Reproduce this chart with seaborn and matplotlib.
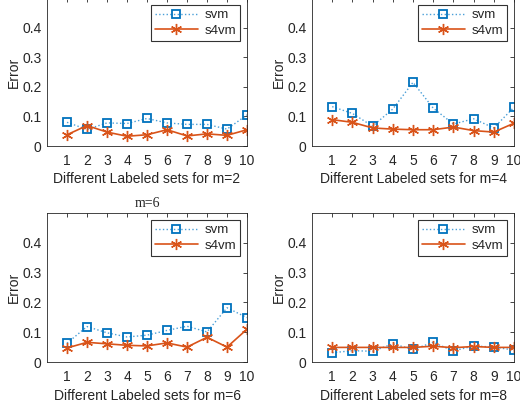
import matplotlib
matplotlib.use("Agg")
import matplotlib.pyplot as plt
import seaborn as sns
import numpy as np

sns.set_style("white")
plt.rcParams['font.family'] = ['Liberation Sans', 'DejaVu Sans']

sets = list(range(1, 11))
svm_m2 = [0.080, 0.056, 0.078, 0.076, 0.093, 0.078, 0.073, 0.073, 0.057, 0.105]
s4vm_m2 = [0.038, 0.069, 0.047, 0.033, 0.038, 0.055, 0.034, 0.041, 0.036, 0.055]
svm_m4 = [0.133, 0.110, 0.067, 0.125, 0.215, 0.128, 0.074, 0.092, 0.061, 0.131]
s4vm_m4 = [0.089, 0.080, 0.061, 0.057, 0.055, 0.055, 0.064, 0.052, 0.047, 0.077]
svm_m6 = [0.063, 0.119, 0.098, 0.084, 0.090, 0.106, 0.120, 0.101, 0.182, 0.149]
s4vm_m6 = [0.047, 0.066, 0.061, 0.056, 0.054, 0.064, 0.050, 0.083, 0.050, 0.110]
svm_m8 = [0.031, 0.038, 0.036, 0.061, 0.042, 0.066, 0.037, 0.054, 0.050, 0.040]
s4vm_m8 = [0.049, 0.049, 0.049, 0.049, 0.049, 0.053, 0.048, 0.052, 0.049, 0.049]
yticks = [0, 0.1, 0.2, 0.3, 0.4]
ytick_labels = ["0", "0.1", "0.2", "0.3", "0.4"]

panels = [
    ("m=2", svm_m2, s4vm_m2),
    ("m=4", svm_m4, s4vm_m4),
    ("m=6", svm_m6, s4vm_m6),
    ("m=8", svm_m8, s4vm_m8),
]

W, H = 520, 413
fig = plt.figure(figsize=(W / 100, H / 100), dpi=100)

# axes boxes in pixels: left, right, top, bottom
boxes = [(47, 247, -2, 146), (312, 514, -2, 146), (47, 247, 213, 362), (312, 514, 213, 362)]

blue = "#0072BD"
orange = "#D95319"
spine_c = "#262626"

for i, ((name, svm, s4vm), (l, r, t, b)) in enumerate(zip(panels, boxes)):
    ax = fig.add_axes([l / W, 1 - b / H, (r - l) / W, (b - t) / H])
    sns.lineplot(x=sets, y=svm, ax=ax, color="#4a9fd8", linestyle=":", linewidth=1.0,
                 marker="s", markersize=6, markerfacecolor="none",
                 markeredgecolor=blue, markeredgewidth=1.3, label="svm")
    sns.lineplot(x=sets, y=s4vm, ax=ax, color=orange, linestyle="-", linewidth=1.2,
                 marker=(6, 2, 0), markersize=8, markeredgecolor=orange,
                 markeredgewidth=1.0, label="s4vm")
    ax.set_xlim(0, 10)
    ax.set_ylim(0, 0.5)
    ax.set_xticks(sets)
    ax.set_xticklabels([str(s) for s in sets])
    ax.set_yticks(yticks)
    ax.set_yticklabels(ytick_labels)
    ax.tick_params(direction="in", length=3, width=0.6, top=True, right=True,
                   labelsize=10, colors=spine_c)
    ax.tick_params(axis="x", pad=6)
    ax.tick_params(axis="y", pad=4)
    for sp in ax.spines.values():
        sp.set_color(spine_c)
        sp.set_linewidth(0.6)
    ax.set_xlabel("Different Labeled sets for " + name, fontsize=10, color=spine_c, labelpad=3)
    ax.set_ylabel("Error", fontsize=10, color=spine_c, labelpad=1)
    if name == "m=6":
        ax.set_title(name, fontsize=10, family=["Liberation Serif"], pad=4)
    leg = ax.legend(loc="upper right", fontsize=9.5, frameon=True, fancybox=False,
                    edgecolor="black", handlelength=3.2, borderaxespad=0.55,
                    handletextpad=0.5, borderpad=0.3, labelspacing=0.25)
    leg.get_frame().set_linewidth(0.8)

fig.savefig("out.png", dpi=100)
